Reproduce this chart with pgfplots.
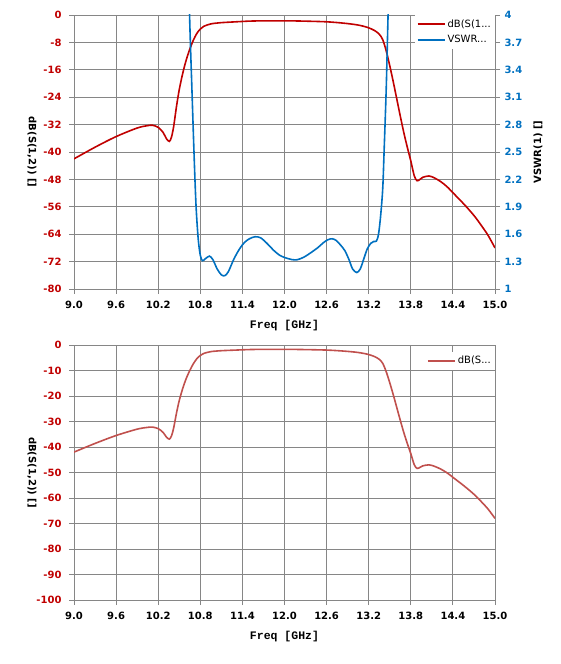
\documentclass[border=0pt]{standalone}
\usepackage{fontspec}
\setmainfont{DejaVu Sans}
\newfontfamily\monofont{Liberation Mono}
\usepackage{pgfplots}
\usepackage{pgfplotstable}
\pgfplotsset{compat=1.18}
\definecolor{cred}{RGB}{192,0,0}
\definecolor{cblue}{RGB}{0,112,192}
\definecolor{cred2}{RGB}{192,80,77}
\definecolor{cgrid}{RGB}{134,134,134}

\pgfplotstableread{
f s12
9.00 -42.0
9.30 -38.6
9.60 -35.5
9.90 -33.0
10.05 -32.3
10.12 -32.2
10.20 -32.8
10.27 -34.3
10.32 -36.2
10.36 -36.9
10.39 -35.6
10.42 -32.6
10.46 -26.8
10.50 -21.8
10.55 -17.0
10.60 -13.1
10.65 -10.0
10.70 -7.4
10.75 -5.4
10.80 -4.1
10.85 -3.3
10.95 -2.6
11.09 -2.25
11.30 -2.0
11.56 -1.75
12.00 -1.7
12.30 -1.8
12.61 -2.0
12.85 -2.4
13.04 -2.9
13.18 -3.6
13.28 -4.5
13.35 -5.6
13.40 -7.2
13.45 -10.5
13.50 -14.8
13.55 -19.5
13.60 -24.5
13.65 -29.5
13.70 -34.3
13.75 -38.6
13.80 -42.6
13.85 -47.0
13.89 -48.4
13.93 -48.0
13.97 -47.4
14.06 -47.0
14.14 -47.6
14.23 -48.7
14.32 -50.2
14.41 -52.1
14.51 -54.2
14.61 -56.4
14.71 -58.8
14.80 -61.3
14.90 -64.3
15.00 -68.0
}\sdata

\pgfplotstableread{
f v
10.62 5.0
10.647 4.0
10.68 3.2
10.714 2.41
10.74 1.9
10.77 1.55
10.80 1.37
10.83 1.31
10.87 1.33
10.93 1.36
10.98 1.32
11.04 1.22
11.10 1.155
11.15 1.146
11.20 1.19
11.28 1.33
11.36 1.44
11.43 1.51
11.50 1.55
11.58 1.572
11.66 1.56
11.75 1.50
11.85 1.42
11.93 1.37
12.00 1.345
12.10 1.323
12.18 1.32
12.28 1.35
12.38 1.40
12.47 1.45
12.56 1.51
12.62 1.54
12.68 1.55
12.74 1.53
12.80 1.48
12.86 1.42
12.92 1.32
12.97 1.22
13.03 1.18
13.08 1.22
13.13 1.33
13.18 1.44
13.23 1.50
13.27 1.52
13.31 1.525
13.34 1.60
13.37 1.80
13.40 2.10
13.42 2.52
13.45 3.20
13.476 4.0
13.51 5.0
}\vdata

\pgfplotsset{
  base/.style={
    scale only axis, width=421pt,
    xmin=9, xmax=15,
    xtick={9,9.6,10.2,10.8,11.4,12,12.6,13.2,13.8,14.4,15},
    xticklabels={9.0,9.6,10.2,10.8,11.4,12.0,12.6,13.2,13.8,14.4,15.0},
    grid=major,
    major grid style={cgrid, line width=0.9pt},
    axis line style={cgrid, line width=0.9pt},
    tick style={cgrid, line width=0.9pt},
    tick align=outside, major tick length=5pt,
    xtick pos=left, ytick pos=left,
    ticklabel style={font=\bfseries\fontsize{10}{12}\selectfont},
    xticklabel style={black, yshift=-4pt},
    yticklabel style={cred, xshift=-4pt},
    xlabel={Freq [GHz]},
    every axis x label/.style={at={(axis description cs:0.5,0)}, anchor=center, yshift=-36.7pt,
      font=\monofont\bfseries\fontsize{11.5}{13}\selectfont},
    every axis y label/.style={at={(axis description cs:-0.0998,0.5)}, rotate=-90, anchor=center,
      font=\bfseries\fontsize{10}{12}\selectfont},
    ylabel={dB(S(1,2)) []},
    legend style={draw=none, fill=white, font=\fontsize{10}{12}\selectfont,
      at={(1,1)}, anchor=north east, inner xsep=2pt, inner ysep=2.5pt, row sep=2.5pt},
    legend cell align=left,
    legend image code/.code={\draw[##1, line width=1.8pt] (0pt,0pt) -- (27pt,0pt);},
  }
}

\begin{document}
\begin{tikzpicture}
\path[use as bounding box] (0,0) rectangle (561pt,664pt);

% top chart, left axis
\begin{axis}[base, at={(74pt,375pt)}, anchor=south west, height=274pt,
  ymin=-80, ymax=0,
  ytick={-80,-72,-64,-56,-48,-40,-32,-24,-16,-8,0},
  yticklabels={-80,-72,-64,-56,-48,-40,-32,-24,-16,-8,0},
]
\addplot[cred, line width=1.6pt, smooth, tension=0.5] table[x=f, y=s12] {\sdata};
\end{axis}

% top chart, right axis
\begin{axis}[base, at={(74pt,375pt)}, anchor=south west, height=274pt,
  grid=none, axis x line=none, axis y line*=right, ytick pos=right,
  ymin=1, ymax=4,
  ytick={1,1.3,1.6,1.9,2.2,2.5,2.8,3.1,3.4,3.7,4},
  yticklabels={1,1.3,1.6,1.9,2.2,2.5,2.8,3.1,3.4,3.7,4},
  yticklabel style={cblue, xshift=5pt},
  xlabel={},
  ylabel={VSWR(1) []},
  every axis y label/.style={at={(axis description cs:1.102,0.5)}, rotate=90, anchor=center,
      font=\bfseries\fontsize{10}{12}\selectfont},
]
\addlegendimage{cred, line width=1.6pt}
\addlegendentry{dB(S(1...}
\addplot[cblue, line width=1.6pt, smooth, tension=0.5] table[x=f, y=v] {\vdata};
\addlegendentry{VSWR...}
\end{axis}

% bottom chart
\begin{axis}[base, at={(74pt,64pt)}, anchor=south west, height=255pt,
  ymin=-100, ymax=0,
  ytick={-100,-90,-80,-70,-60,-50,-40,-30,-20,-10,0},
  yticklabels={-100,-90,-80,-70,-60,-50,-40,-30,-20,-10,0},
  legend style={at={(1,0.975)}},
]
\addplot[cred2, line width=1.6pt, smooth, tension=0.5] table[x=f, y=s12] {\sdata};
\addlegendentry{dB(S...}
\end{axis}
\end{tikzpicture}
\end{document}
